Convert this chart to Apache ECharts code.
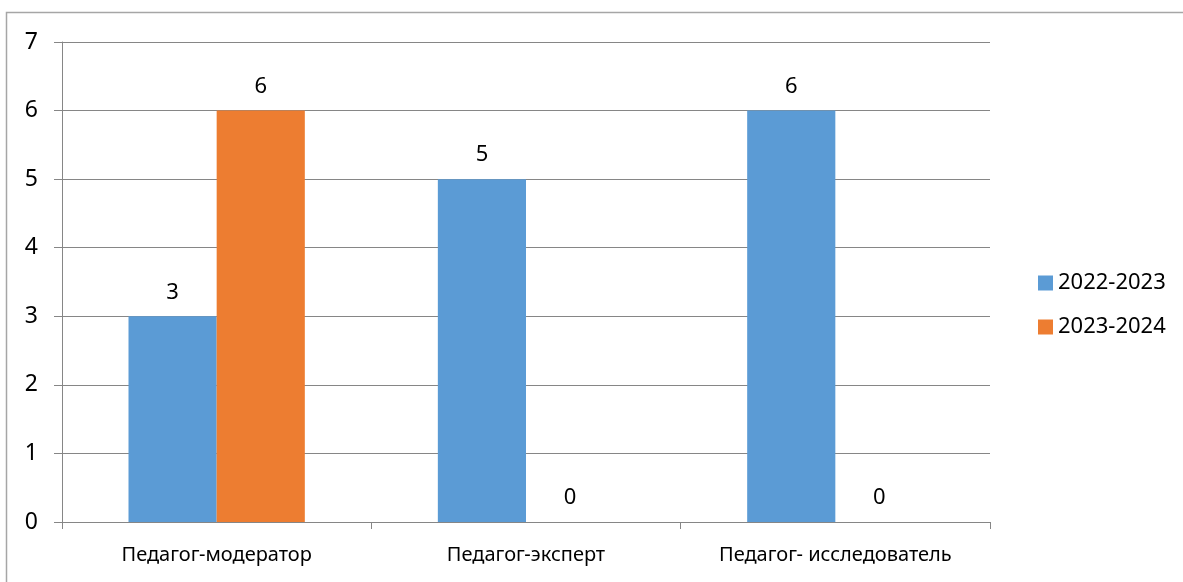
<!DOCTYPE html>
<html>
<head>
<meta charset="utf-8">
<script src="https://cdn.jsdelivr.net/npm/echarts@6/dist/echarts.min.js"></script>
<style>html,body{margin:0;padding:0;background:#fff;}#c{width:1183px;height:582px;}</style>
</head>
<body>
<div id="c"></div>
<script>
var categories = ['Педагог-модератор', 'Педагог-эксперт', 'Педагог- исследователь'];
var seriesNames = ['2022-2023', '2023-2024'];
var values2022 = [3, 5, 6];
var values2023 = [6, 0, 0];
var yTicks = [0, 1, 2, 3, 4, 5, 6, 7];

var font = 'Noto Sans';
var chart = echarts.init(document.getElementById('c'));
chart.setOption({
  animation: false,
  textStyle: { fontFamily: font },
  graphic: [{
    type: 'polyline',
    shape: { points: [[6.5, 582], [6.5, 12.5], [1183, 12.5]] },
    style: { fill: 'none', stroke: '#a6a6a6', lineWidth: 1.5 }
  }],
  grid: { left: 62, right: 193, top: 42, bottom: 60 },
  legend: {
    orient: 'vertical', left: 1033, top: 267,
    icon: 'rect', itemWidth: 15, itemHeight: 15, itemGap: 22,
    textStyle: { fontFamily: font, fontSize: 22, color: '#000' },
    data: seriesNames
  },
  xAxis: {
    type: 'category', data: categories,
    axisLine: { lineStyle: { color: '#868686' } },
    axisTick: { show: true, length: 7, lineStyle: { color: '#868686' } },
    axisLabel: { color: '#000', fontSize: 20, margin: 23, fontFamily: font, interval: 0, hideOverlap: false }
  },
  yAxis: {
    type: 'value', min: 0, max: 7, interval: 1,
    axisLine: { show: true, lineStyle: { color: '#868686' } },
    axisTick: { show: true, length: 8, lineStyle: { color: '#868686' } },
    axisLabel: { color: '#000', fontSize: 23, margin: 24, fontFamily: font,
      formatter: function (v) { return yTicks.indexOf(v) >= 0 ? String(v) : ''; } },
    splitLine: { lineStyle: { color: '#868686' } }
  },
  series: [{
    name: seriesNames[0], type: 'bar', data: values2022,
    barGap: '0%', barCategoryGap: '43%',
    itemStyle: { color: '#5b9bd5' },
    label: { show: true, position: 'top', distance: 13, color: '#000', fontSize: 22, fontFamily: font }
  }, {
    name: seriesNames[1], type: 'bar', data: values2023,
    itemStyle: { color: '#ed7d31' },
    label: { show: true, position: 'top', distance: 13, color: '#000', fontSize: 22, fontFamily: font }
  }]
});
</script>
</body>
</html>
